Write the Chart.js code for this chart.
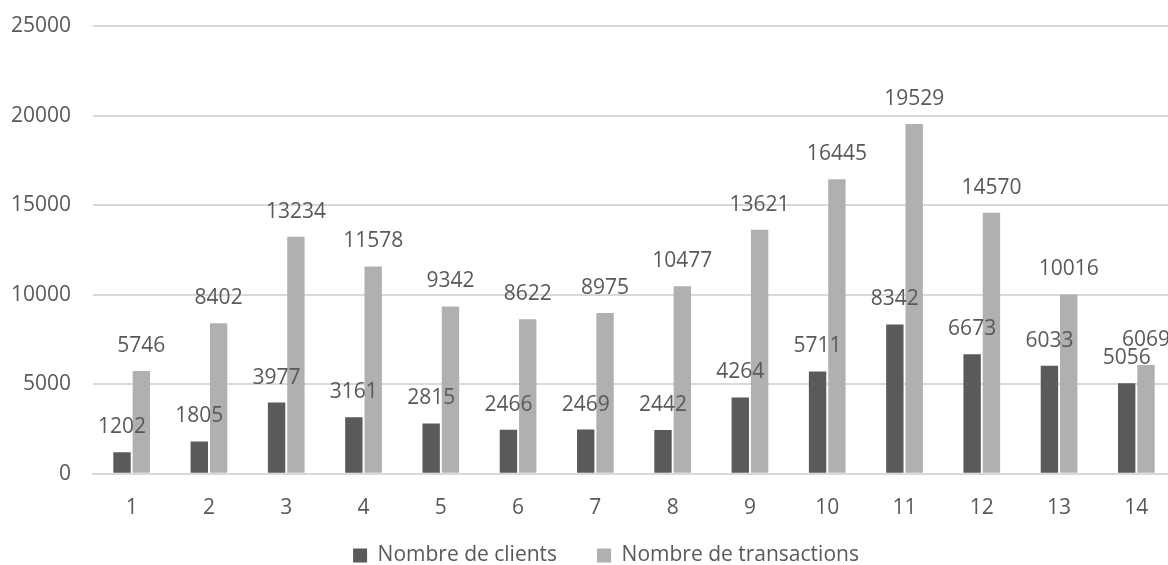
<!DOCTYPE html>
<html>
<head>
<meta charset="utf-8">
<script src="https://cdn.jsdelivr.net/npm/chart.js@4.4.1/dist/chart.umd.min.js"></script>
<style>
  html, body { margin: 0; padding: 0; background: #fff; overflow: hidden; }
  #wrap { width: 1175px; height: 565px; }
</style>
</head>
<body>
<div id="wrap"><canvas id="chart" width="1175" height="565"></canvas></div>
<script>
const months = ['1', '2', '3', '4', '5', '6', '7', '8', '9', '10', '11', '12', '13', '14'];
const clients = [1202, 1805, 3977, 3161, 2815, 2466, 2469, 2442, 4264, 5711, 8342, 6673, 6033, 5056];
const transactions = [5746, 8402, 13234, 11578, 9342, 8622, 8975, 10477, 13621, 16445, 19529, 14570, 10016, 6069];

const textColor = '#595959';
const fontFamily = '"Open Sans", sans-serif';
const fontSize = 21;

// value labels drawn above each bar
const barValues = {
  id: 'barValues',
  afterDatasetsDraw(chart) {
    const ctx = chart.ctx;
    ctx.save();
    ctx.font = fontSize + 'px ' + fontFamily;
    ctx.fillStyle = textColor;
    ctx.textAlign = 'center';
    ctx.textBaseline = 'middle';
    chart.data.datasets.forEach((ds, i) => {
      chart.getDatasetMeta(i).data.forEach((bar, j) => {
        ctx.fillText(String(ds.data[j]), bar.x, bar.y - 25);
      });
    });
    ctx.restore();
  }
};

// pull the legend up closer to the category labels, a bit right of centre
const legendShift = {
  id: 'legendShift',
  afterLayout(chart) {
    const lg = chart.legend;
    if (lg) {
      lg.top -= 30;
      lg.bottom -= 30;
      lg.left += 24;
      lg.right += 24;
    }
  }
};

new Chart(document.getElementById('chart').getContext('2d'), {
  type: 'bar',
  data: {
    labels: months,
    datasets: [
      {
        label: 'Nombre de clients',
        data: clients,
        backgroundColor: '#5a5a5a',
        categoryPercentage: 0.5,
        barPercentage: 0.9,
      },
      {
        label: 'Nombre de transactions',
        data: transactions,
        backgroundColor: '#b0b0b0',
        categoryPercentage: 0.5,
        barPercentage: 0.9,
      },
    ],
  },
  options: {
    responsive: false,
    animation: false,
    layout: { padding: { top: 26, left: -11, right: 0, bottom: -41 } },
    plugins: {
      tooltip: { enabled: false },
      legend: {
        position: 'bottom',
        labels: {
          boxWidth: 14,
          boxHeight: 14,
          padding: 40,
          color: textColor,
          font: { family: fontFamily, size: fontSize },
        },
      },
    },
    scales: {
      x: {
        grid: { display: false },
        border: { color: '#d9d9d9', width: 2 },
        ticks: { color: textColor, padding: 14, font: { family: fontFamily, size: fontSize } },
      },
      y: {
        min: 0,
        max: 25000,
        ticks: {
          stepSize: 5000,
          color: textColor,
          padding: 22,
          font: { family: fontFamily, size: fontSize },
          callback: (v) => String(v),
        },
        grid: { color: '#d9d9d9', lineWidth: 2, drawTicks: false },
        border: { display: false },
        afterFit: (scale) => { scale.paddingTop = 0; },
      },
    },
  },
  plugins: [barValues, legendShift],
});
</script>
</body>
</html>
